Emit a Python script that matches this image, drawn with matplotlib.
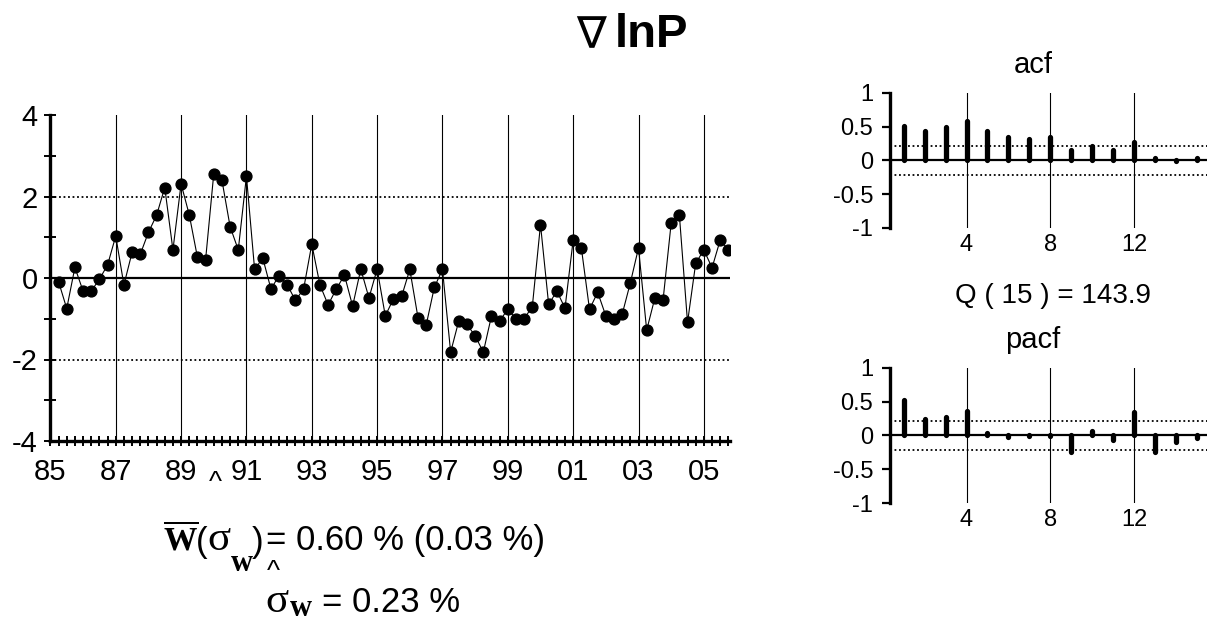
import numpy as np
import matplotlib
matplotlib.use('Agg')
import matplotlib.pyplot as plt
from matplotlib.ticker import MultipleLocator, FixedLocator

plt.rcParams['font.family'] = ['Liberation Sans', 'DejaVu Sans']
plt.rcParams['axes.unicode_minus'] = False
plt.rcParams['mathtext.fontset'] = 'custom'
plt.rcParams['mathtext.rm'] = 'Liberation Serif'
plt.rcParams['mathtext.bf'] = 'Liberation Serif:bold'

# quarterly growth of ln P, 1985Q1 .. 2005Q3
dates = np.arange(85.25, 105.76, 0.25)
dlnp = [-0.09, -0.75, 0.26, -0.32, -0.32, -0.03, 0.32, 1.03,
        -0.17, 0.63, 0.58, 1.12, 1.54, 2.22, 0.69, 2.31,
        1.55, 0.51, 0.45, 2.56, 2.40, 1.26, 0.69, 2.50,
        0.21, 0.49, -0.27, 0.06, -0.17, -0.55, -0.27, 0.83,
        -0.17, -0.66, -0.27, 0.07, -0.69, 0.22, -0.49, 0.22,
        -0.93, -0.51, -0.45, 0.21, -0.97, -1.16, -0.23, 0.21,
        -1.82, -1.05, -1.14, -1.42, -1.82, -0.93, -1.05, -0.77,
        -1.00, -1.00, -0.70, 1.31, -0.65, -0.32, -0.74, 0.93,
        0.74, -0.77, -0.35, -0.93, -1.00, -0.89, -0.12, 0.74,
        -1.28, -0.49, -0.55, 1.35, 1.55, -1.09, 0.36, 0.69,
        0.25, 0.93, 0.69]
year_ticks = np.arange(85, 106, 2)
year_labels = ['%02d' % (y % 100) for y in year_ticks]

lags = np.arange(1, 16)
acf = [0.51, 0.43, 0.49, 0.58, 0.43, 0.35, 0.32, 0.35, 0.16, 0.21,
       0.16, 0.27, 0.04, -0.01, 0.03]
pacf = [0.52, 0.24, 0.27, 0.36, 0.04, -0.02, -0.01, -0.01, -0.25, 0.06,
        -0.07, 0.35, -0.24, -0.10, -0.04]
band = 0.21

W, H = 1212, 623
fig = plt.figure(figsize=(W / 100, H / 100), dpi=100)


def px_axes(x0, y0, x1, y1):
    return fig.add_axes([x0 / W, 1 - y1 / H, (x1 - x0) / W, (y1 - y0) / H])


# main series
ax = px_axes(50.4, 115, 730, 441)
ax.set_xlim(85, 105.8)
ax.set_ylim(-4, 4)
for y in year_ticks[1:]:
    ax.plot([y, y], [-4, 4], color='black', lw=0.8, zorder=1)
ax.axhline(0, color='black', lw=1.6, zorder=1)
ax.axhline(2, color='black', lw=1.3, ls=(0, (1, 1.5)), zorder=1)
ax.axhline(-2, color='black', lw=1.3, ls=(0, (1, 1.5)), zorder=1)
ax.plot(dates, dlnp, color='black', lw=0.8, marker='o', ms=7.8, zorder=3)
ax.spines['top'].set_visible(False)
ax.spines['right'].set_visible(False)
ax.spines['left'].set_linewidth(2.4)
ax.spines['bottom'].set_linewidth(2.4)
ax.set_yticks([-4, -2, 0, 2, 4])
ax.yaxis.set_minor_locator(FixedLocator([-3, -1, 1, 3]))
ax.set_xticks(year_ticks)
ax.set_xticklabels(year_labels)
ax.xaxis.set_minor_locator(MultipleLocator(0.25))
ax.tick_params(axis='both', which='both', direction='inout', width=1.4,
               labelsize=21)
ax.tick_params(axis='x', which='both', length=7, pad=9)
ax.tick_params(axis='y', which='both', length=8, pad=5)

# correlograms
def correlogram(box, vals, title):
    a = px_axes(*box)
    a.set_xlim(0.35, 15.45)
    a.set_ylim(-1, 1)
    for k in (4, 8, 12):
        a.plot([k, k], [-1, 1], color='black', lw=0.8, zorder=1)
    a.axhline(0, color='black', lw=1.6, zorder=1)
    a.axhline(band, color='black', lw=1.3, ls=(0, (1, 1.5)), zorder=1)
    a.axhline(-band, color='black', lw=1.3, ls=(0, (1, 1.5)), zorder=1)
    a.vlines(lags, 0, vals, color='black', lw=3.8, capstyle='round', zorder=3)
    for s in ('top', 'right', 'bottom'):
        a.spines[s].set_visible(False)
    a.spines['left'].set_linewidth(2.4)
    a.set_yticks([-1, -0.5, 0, 0.5, 1])
    a.set_yticklabels(['-1', '-0.5', '0', '0.5', '1'])
    a.set_xticks([4, 8, 12])
    a.tick_params(axis='y', direction='out', length=6, width=1.6, pad=6,
                  labelsize=17)
    a.tick_params(axis='x', length=0, pad=4, labelsize=17)
    fig.text(1033 / W, 1 - (box[1] - 20) / H, title, ha='center',
             va='baseline', fontsize=21)
    return a


correlogram((890, 92.7, 1206.5, 228), acf, 'acf')
correlogram((890, 367.7, 1206.5, 503), pacf, 'pacf')
fig.text(1053 / W, 1 - 303 / H, 'Q ( 15 ) = 143.9', ha='center',
         va='baseline', fontsize=20)

# title
fig.text(576 / W, 1 - 48 / H, '\u2207', ha='left', va='baseline',
         fontsize=32, family='DejaVu Sans')
fig.text(615 / W, 1 - 47 / H, 'lnP', ha='left', va='baseline',
         fontsize=34, fontweight='bold')


def t(x, y, s, **kw):
    fig.text(x / W, 1 - y / H, s, ha='left', va='baseline', **kw)


# line 1: mean (std error)
t(163, 550, r'$\overline{\mathbf{W}}$', fontsize=24)
t(196, 552, '(', fontsize=25)
t(207, 550, '\u03c3', fontsize=31, family='Liberation Serif')
t(231, 571, 'w', fontsize=22, family='Liberation Serif', fontweight='bold')
t(252, 552, ')', fontsize=25)
t(209, 490, '^', fontsize=20)
t(266, 550, '= 0.60 % (0.03 %)', fontsize=25)
# line 2: std dev
t(267, 579, '^', fontsize=20)
t(265, 612, '\u03c3', fontsize=31, family='Liberation Serif')
t(290, 616, 'w', fontsize=22, family='Liberation Serif', fontweight='bold')
t(322, 612, '= 0.23 %', fontsize=25)

fig.savefig('out.png', dpi=100)
